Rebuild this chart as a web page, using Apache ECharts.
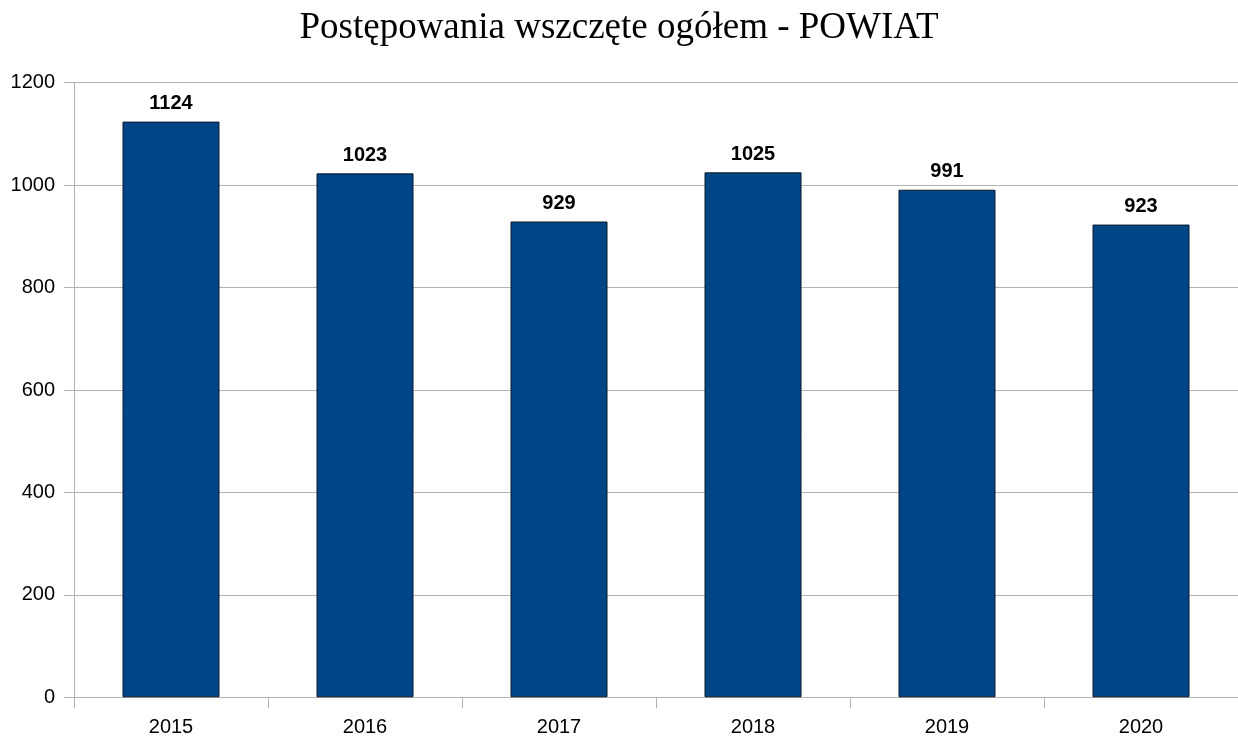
<!DOCTYPE html>
<html>
<head>
<meta charset="utf-8">
<script src="https://cdn.jsdelivr.net/npm/echarts@6/dist/echarts.min.js"></script>
<style>
  html, body { margin: 0; padding: 0; background: #fff; }
  #chart { width: 1238px; height: 738px; }
</style>
</head>
<body>
<div id="chart"></div>
<script>
// dane
var years = ['2015', '2016', '2017', '2018', '2019', '2020'];
var cases = [1124, 1023, 929, 1025, 991, 923];

var chart = echarts.init(document.getElementById('chart'));
chart.setOption({
	animation: false,
	title: {
		text: 'Postępowania wszczęte ogółem - POWIAT',
		left: 'center',
		top: 5,
		textStyle: {
			fontFamily: 'Liberation Serif',
			fontSize: 37,
			fontWeight: 'normal',
			color: '#000'
		}
	},
	grid: {
		left: 74,
		right: 0,
		top: 82.7,
		bottom: 40.7,
		containLabel: false
	},
	xAxis: {
		type: 'category',
		data: years,
		axisLine: { lineStyle: { color: '#b3b3b3', width: 1 } },
		axisTick: { show: true, length: 11, lineStyle: { color: '#b3b3b3' } },
		axisLabel: {
			margin: 20,
			fontFamily: 'Liberation Sans',
			fontSize: 20,
			color: '#000'
		}
	},
	yAxis: {
		type: 'value',
		min: 0,
		max: 1200,
		interval: 200,
		axisLine: { show: true, lineStyle: { color: '#b3b3b3', width: 1 } },
		axisTick: { show: true, length: 10, lineStyle: { color: '#b3b3b3' } },
		axisLabel: {
			margin: 19,
			fontFamily: 'Liberation Sans',
			fontSize: 20,
			color: '#000',
			formatter: function(v) { return String(v); }
		},
		splitLine: { lineStyle: { color: '#b3b3b3', width: 1 } }
	},
	series: [{
		type: 'bar',
		data: cases,
		barWidth: '50%',
		itemStyle: {
			color: '#004586',
			borderColor: '#0a1a2a',
			borderWidth: 1
		},
		label: {
			show: true,
			position: 'top',
			distance: 8,
			fontFamily: 'Liberation Sans',
			fontSize: 20,
			fontWeight: 'bold',
			color: '#000'
		}
	}]
});
</script>
</body>
</html>
